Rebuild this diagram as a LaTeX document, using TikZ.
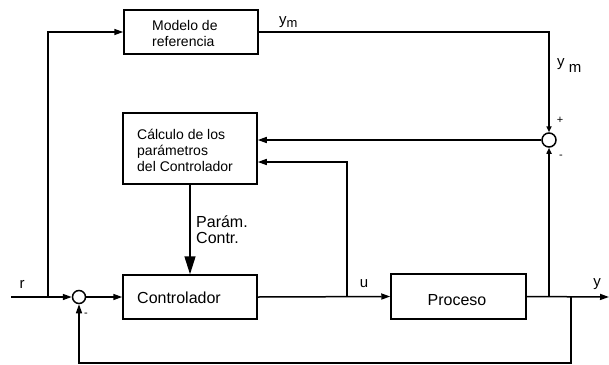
\documentclass[tikz,border=0pt]{standalone}
\usepackage{fontspec}
\setmainfont{Liberation Sans}
\usetikzlibrary{arrows.meta,calc}
\tikzset{
  blk/.style={draw, line width=1.5pt, rectangle, inner sep=0pt},
  sumc/.style={draw, line width=1.5pt, circle, inner sep=0pt, minimum size=13pt},
  arr/.style={line width=1.5pt, -{Triangle[length=9pt,width=6pt]}},
  sarr/.style={line width=1.5pt, -{Triangle[length=6pt,width=5pt]}},
  bigarr/.style={line width=1.5pt, -{Triangle[length=18pt,width=11pt]}},
  txt/.style={inner sep=0pt, font=\fontsize{14}{16}\selectfont},
  btxt/.style={inner sep=0pt, font=\fontsize{16}{18}\selectfont},
  lbl/.style={inner sep=0pt, font=\fontsize{15}{16}\selectfont},
}
\begin{document}
\begin{tikzpicture}[x=1pt,y={(0pt,-1pt)}]
\useasboundingbox (0,0) rectangle (609,364);
% blocks
\node[blk, minimum width=134pt, minimum height=44pt] (model) at (191,32) {};
\node[txt, anchor=west, align=left] (modeltxt) at (152,33) {Modelo de\\referencia};
\node[blk, minimum width=134pt, minimum height=71pt] (calc) at (190,148.5) {};
\node[txt, anchor=west, align=left] (calctxt) at (137,150) {Cálculo de los\\parámetros\\del Controlador};
\node[blk, minimum width=134pt, minimum height=44pt] (ctrl) at (190,297) {};
\node[btxt, anchor=west] (ctrltxt) at (137,298) {Controlador};
\node[blk, minimum width=135pt, minimum height=45pt] (proc) at (458.5,296.5) {};
\node[btxt] (proctxt) at (457,300) {Proceso};
% summing junctions
\node[sumc] (s1) at (79,297) {};
\node[sumc, minimum size=14pt] (s2) at (549,140) {};
% coordinates
\coordinate (rin) at (11,297);
\coordinate (rbr) at (48,297);
\coordinate (ubr) at (347,297);
\coordinate (ybr) at (549,297);
\coordinate (fbr) at (571,297);
\coordinate (yout) at (609,297);
\coordinate (fbot) at (571,363);
\coordinate (ymc) at (549,32);
\coordinate (cbr) at (347,162);
% connectors
\draw[arr] (rin) -- (s1.west);
\draw[arr] (rbr) |- (model.west);
\draw[arr] (s1.east) -- (ctrl.west);
\draw[arr] (ctrl.east) -- (proc.west);
\draw[arr] (proc.east) -- (yout);
\draw[sarr] (model.east |- ymc) -- (ymc) -- (s2.north);
\draw[sarr] (ybr) -- (s2.south);
\draw[arr] (s2.west) -- (s2.west -| calc.east);
\draw[arr] (ubr) -- (cbr) -- (cbr -| calc.east);
\draw[bigarr] (calc.south) -- (ctrl.north);
\draw[arr] (fbr) -- (fbot) -| (s1.south);
% labels
\node[lbl] (lr) at (22,284) {r};
\node[lbl] (lu) at (364,284) {u};
\node[lbl] (ly) at (597,284) {y};
\node[lbl, anchor=west] (lym) at (279,22) {y\raisebox{-3pt}{\fontsize{13}{13}\selectfont m}};
\node[lbl, anchor=west] (lym2) at (557,66) {y\raisebox{-6pt}{\ \fontsize{15}{15}\selectfont m}};
\node[inner sep=0pt, font=\fontsize{11}{11}\selectfont] (lp) at (560,120) {+};
\node[inner sep=0pt, font=\fontsize{11}{11}\selectfont] (lm) at (561,157) {-};
\node[inner sep=0pt, font=\fontsize{11}{11}\selectfont] (lm1) at (86,315) {-};
\node[inner sep=0pt, font=\fontsize{16}{16}\selectfont, anchor=west, align=left] (lpar) at (196,230) {Parám.\\Contr.};
\end{tikzpicture}
\end{document}
